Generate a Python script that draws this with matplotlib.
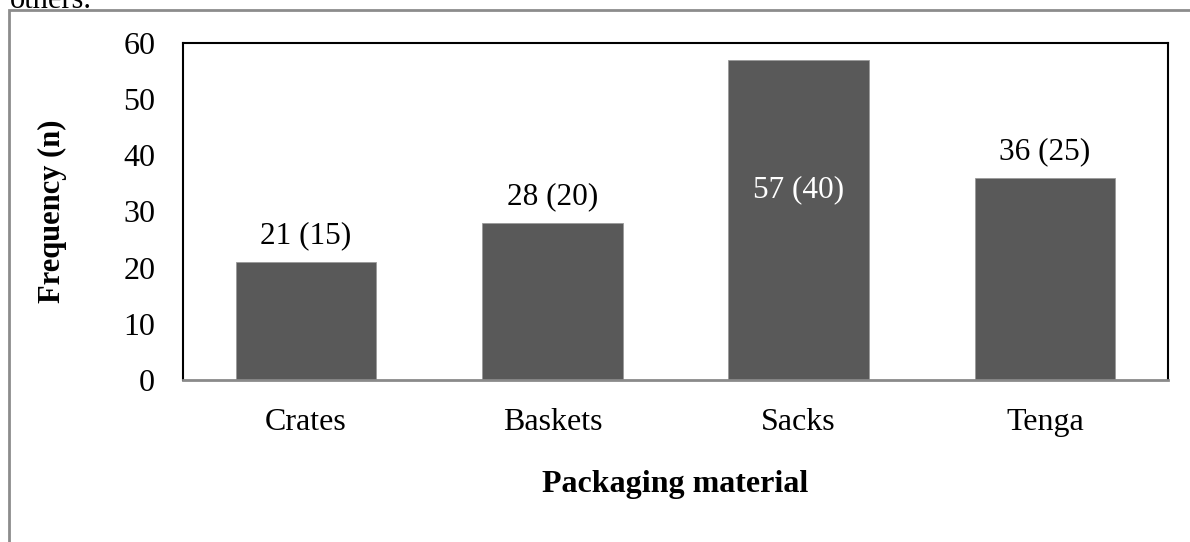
import numpy as np
from matplotlib import pyplot as plt
from matplotlib.patches import Rectangle

materials = ["Crates", "Baskets", "Sacks", "Tenga"]
counts = [21, 28, 57, 36]
percents = [15, 20, 40, 25]

W, H = 1190, 542

plt.rcParams['font.family'] = ['Liberation Serif', 'DejaVu Serif']

fig = plt.figure(figsize=(W / 100, H / 100), dpi=100)
ax = fig.add_axes([183 / W, 1 - 380 / H, (1168 - 183) / W, (380 - 43) / H])

x = np.arange(len(materials))
bars = ax.bar(x, counts, width=0.57, color="#595959", edgecolor="#9a9a9a", linewidth=0.6, zorder=2)

for xi, c, p in zip(x, counts, percents):
	label = "%d (%d)" % (c, p)
	if c == max(counts):
		ax.annotate(label, (xi, c), xytext=(0, -130), textcoords="offset pixels",
					ha="center", va="center", color="white", fontsize=22.5)
	else:
		ax.annotate(label, (xi, c), xytext=(0, 26), textcoords="offset pixels",
					ha="center", va="center", color="black", fontsize=22.5)

ax.set_xlim(-0.5, len(materials) - 0.5)
ax.set_ylim(0, 60)
ax.set_yticks(range(0, 61, 10))
ax.set_xticks(x)
ax.set_xticklabels(materials)
ax.tick_params(axis="both", length=0)
ax.tick_params(axis="y", pad=20, labelsize=23)
ax.tick_params(axis="x", pad=20, labelsize=23)

for s in ["left", "top", "right"]:
	ax.spines[s].set_color("black")
	ax.spines[s].set_linewidth(1.5)
ax.spines["bottom"].set_color("#8a8a8a")
ax.spines["bottom"].set_linewidth(2)

ax.set_ylabel("Frequency (n)", fontsize=22, fontweight="bold")
ax.yaxis.set_label_coords((67 - 183) / (1168 - 183), 0.5)
ax.set_xlabel("Packaging material", fontsize=23, fontweight="bold")
ax.xaxis.set_label_coords(0.5, -(470 - 380) / (380 - 43))

# page frame and clipped caption text from the source document
fig.patches.append(Rectangle((9 / W, -0.1), 1.2, 1 - 10 / H + 0.1, transform=fig.transFigure,
							 fill=False, edgecolor="#8c8c8c", linewidth=2))
fig.text(10 / W, 1 - 8 / H, "others.", fontsize=22, va="baseline", ha="left")

fig.savefig("out.png", dpi=100)
